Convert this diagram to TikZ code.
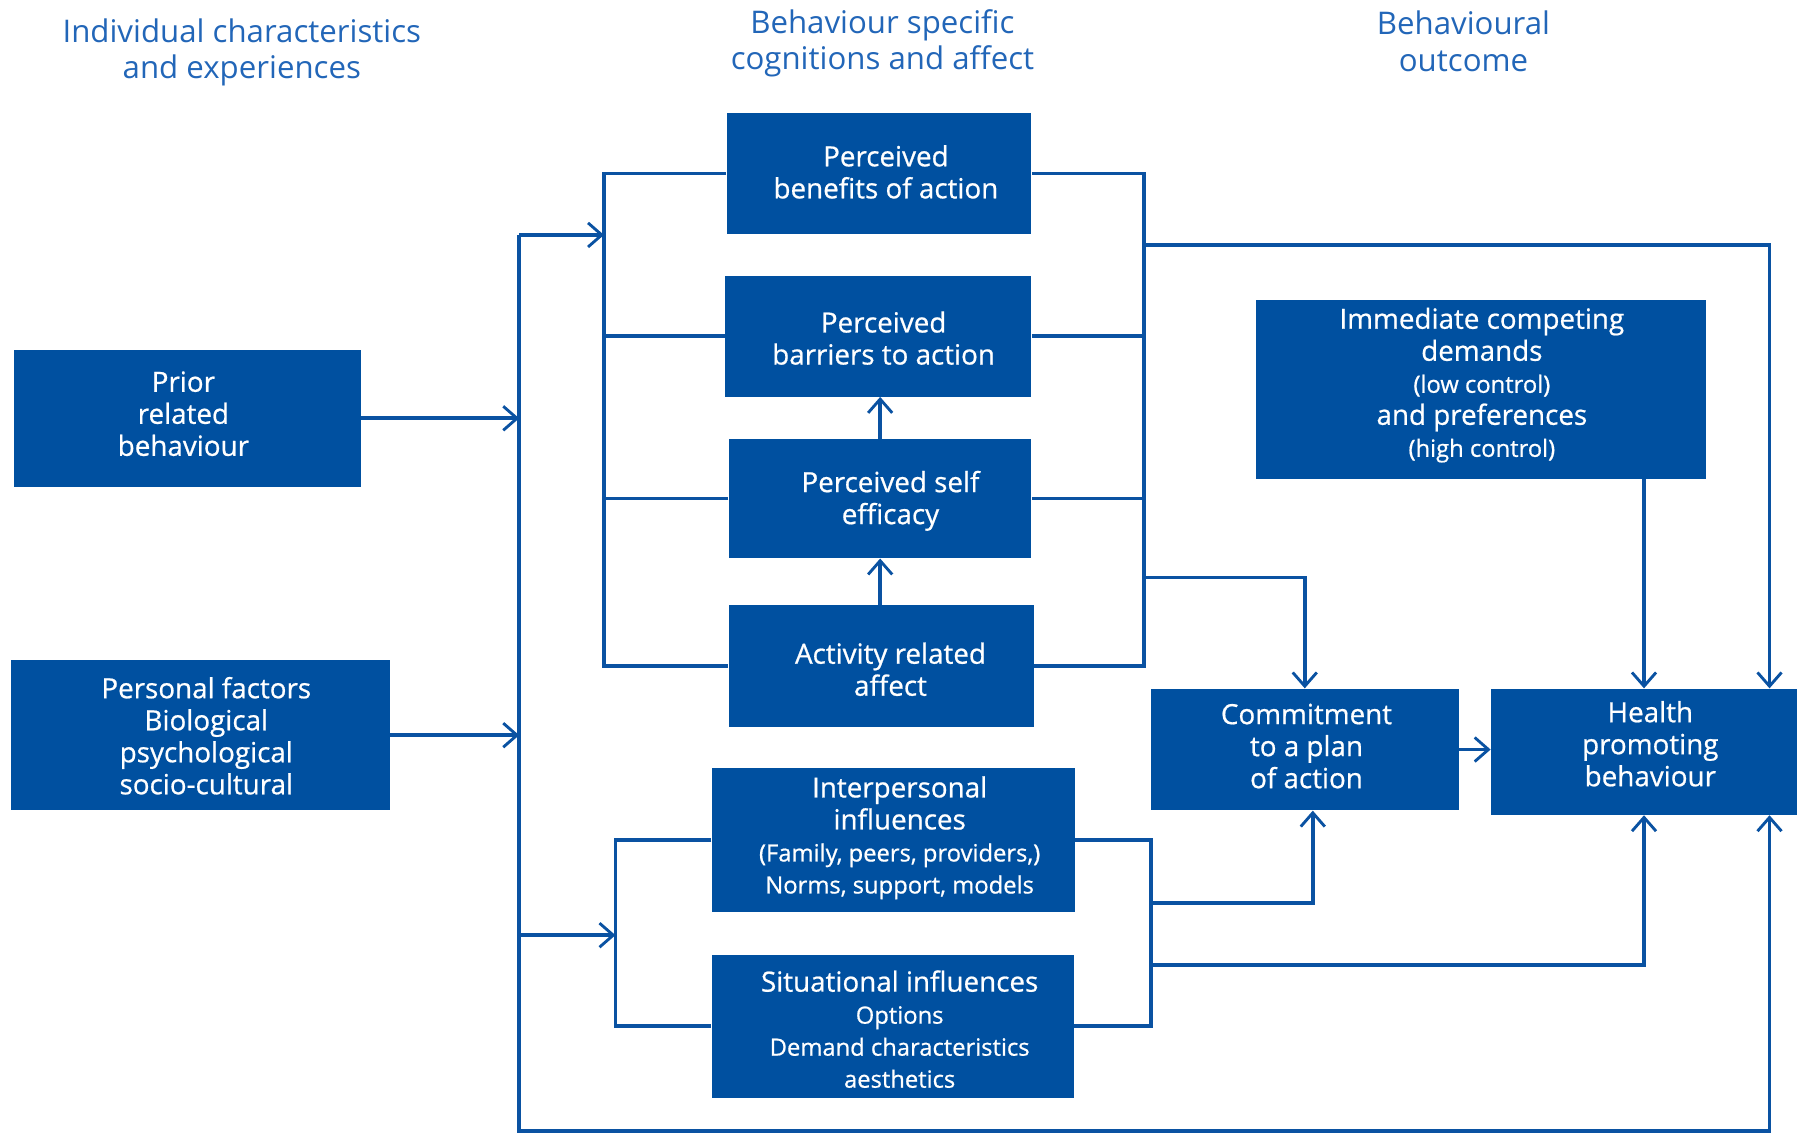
\documentclass[tikz,border=0pt]{standalone}
\usepackage{fontspec}
\setmainfont{Open Sans}
\newfontfamily\boxfont[FakeBold=0.7]{Open Sans}
\usetikzlibrary{arrows.meta,calc}
\definecolor{boxblue}{HTML}{0050A0}
\definecolor{lineblue}{HTML}{0A52A2}
\definecolor{titleblue}{HTML}{2266B8}
\newcommand{\mainfs}{\boxfont\fontsize{13.8}{15.9}\selectfont}
\newcommand{\smallfs}{\fontsize{11.8}{13.8}\selectfont}
\tikzset{
  box/.style={fill=boxblue, draw=none, text=white, align=center, inner sep=0pt, font=\mainfs},
  btxt/.style={align=center, text=white, font=\mainfs},
  ttl/.style={text=titleblue, align=center, font=\fontsize{15.5}{18}\selectfont},
  conn/.style={draw=lineblue, line width=0.065cm},
  arr/.style={conn, -{Straight Barb[length=0.24cm, width=0.42cm, line width=0.05cm]}},
}
\begin{document}
\begin{tikzpicture}[x=0.02cm, y=-0.02cm]
\useasboundingbox (0,0) rectangle (1568,989);
% titles
\node[ttl] (t1) at (211,46) {Individual characteristics\\and experiences};
\node[ttl] (t2) at (770,38) {Behaviour specific\\cognitions and affect};
\node[ttl] (t3) at (1277,36) {Behavioural\\outcome};
% boxes
\node[box, minimum width=303*0.02cm, minimum height=120*0.02cm] (prior) at (163.5,365) {};
\node[btxt] (priortxt) at (160,361) {Prior\\related\\behaviour};
\node[box, minimum width=330*0.02cm, minimum height=131*0.02cm] (personal) at (175,641.5) {};
\node[btxt] (personaltxt) at (180,642) {Personal factors\\Biological\\psychological\\socio-cultural};
\node[box, minimum width=266*0.02cm, minimum height=105*0.02cm] (benefits) at (767,151.5) {};
\node[btxt] (benefitstxt) at (773,150) {Perceived\\benefits of action};
\node[box, minimum width=267*0.02cm, minimum height=105*0.02cm] (barriers) at (766.5,293.5) {};
\node[btxt] (barrierstxt) at (771,295) {Perceived\\barriers to action};
\node[box, minimum width=264*0.02cm, minimum height=104*0.02cm] (selfeff) at (768,435) {};
\node[btxt] (selfefftxt) at (777,437) {Perceived self\\efficacy};
\node[box, minimum width=266*0.02cm, minimum height=106*0.02cm] (activity) at (769,581) {};
\node[btxt] (activitytxt) at (777,584) {Activity related\\affect};
\node[box, minimum width=317*0.02cm, minimum height=126*0.02cm] (interp) at (779.5,733) {};
\node[btxt] (interptxt) at (785,731) {Interpersonal\\influences\\{\smallfs (Family, peers, providers,)}\\{\smallfs Norms, support, models}};
\node[box, minimum width=316*0.02cm, minimum height=125*0.02cm] (situ) at (779,895.5) {};
\node[btxt] (situtxt) at (785,898) {Situational influences\\{\smallfs Options}\\{\smallfs Demand characteristics}\\{\smallfs aesthetics}};
\node[box, minimum width=393*0.02cm, minimum height=156*0.02cm] (immediate) at (1292.5,340) {};
\node[btxt] (immtxt) at (1293,336) {Immediate competing\\demands\\{\smallfs (low control)}\\and preferences\\{\smallfs (high control)}};
\node[box, minimum width=269*0.02cm, minimum height=106*0.02cm] (commit) at (1138.5,654) {};
\node[btxt] (committxt) at (1140,651) {Commitment\\to a plan\\of action};
\node[box, minimum width=267*0.02cm, minimum height=110*0.02cm] (health) at (1434.5,656) {};
\node[btxt] (healthtxt) at (1440,649) {Health\\promoting\\behaviour};
% helper coordinates
\coordinate (T) at (453,0);
\coordinate (L1) at (527,0);
\coordinate (R1) at (998,0);
\coordinate (L2) at (537,0);
\coordinate (R2) at (1004,0);
\coordinate (HX) at (1544,0);
\coordinate (trtop) at (453,205);
\coordinate (trmid) at (453,816);
\coordinate (trbot) at (453,987);
\coordinate (rb1) at (998,214);
\coordinate (rb2) at (998,504);
\coordinate (rl1) at (1004,788);
\coordinate (rl2) at (1004,842);
% trunk
\draw[arr] (trtop) -- (trbot) -- (trbot -| HX) -- (health.south -| HX);
\draw[arr] (trtop) -- (trtop -| L1);
\draw[arr] (trmid) -- (trmid -| L2);
\draw[arr] (prior.east) -- (prior.east -| T);
\draw[arr] (personal.east) -- (personal.east -| T);
% upper bracket
\draw[conn] (benefits.west) -- (benefits.west -| L1) -- (activity.west -| L1) -- (activity.west);
\draw[conn] (barriers.west) -- (barriers.west -| L1);
\draw[conn] (selfeff.west) -- (selfeff.west -| L1);
\draw[conn] (benefits.east) -- (benefits.east -| R1) -- (activity.east -| R1) -- (activity.east);
\draw[conn] (barriers.east) -- (barriers.east -| R1);
\draw[conn] (selfeff.east) -- (selfeff.east -| R1);
\draw[arr] (selfeff.south |- activity.north) -- (selfeff.south);
\draw[arr] (selfeff.south |- selfeff.north) -- (selfeff.south |- barriers.south);
% lower bracket
\draw[conn] (interp.west) -- (interp.west -| L2) -- (situ.west -| L2) -- (situ.west);
\draw[conn] (interp.east) -- (interp.east -| R2) -- (situ.east -| R2) -- (situ.east);
% outputs
\draw[arr] (rb1) -| (health.north -| HX);
\draw[arr] (rb2) -| (commit.north);
\draw[arr] (immediate.south -| health.north) -- (health.north);
\draw[arr] (commit.east) -- (commit.east -| health.west);
\draw[arr] (rl1) -| ($(commit.south)+(7,0)$);
\draw[arr] (rl2) -| (health.south);
\end{tikzpicture}
\end{document}
